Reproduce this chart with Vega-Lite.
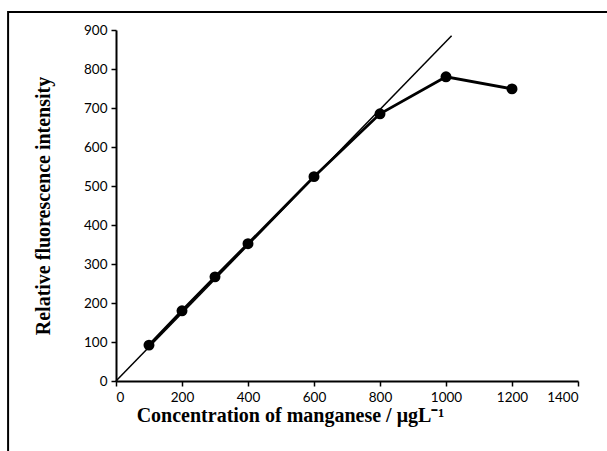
{
  "$schema": "https://vega.github.io/schema/vega-lite/v6.json",
  "width": 462,
  "height": 351,
  "autosize": {"type": "none"},
  "padding": {"left": 116, "top": 30, "right": 29, "bottom": 70},
  "background": "white",
  "config": {
    "view": {"stroke": null},
    "axis": {
      "grid": false,
      "domainColor": "black",
      "domainWidth": 2,
      "tickColor": "black",
      "tickWidth": 1.5,
      "tickSize": 5,
      "labelFont": "Lato",
      "labelFontSize": 13.5,
      "labelColor": "black",
      "labelPadding": 4,
      "format": "d",
      "titleFont": "Liberation Serif",
      "titleFontWeight": "bold",
      "titleFontSize": 20,
      "titleColor": "black"
    }
  },
  "datasets": {
    "measured": [
      {"conc": 100, "intensity": 92},
      {"conc": 200, "intensity": 180},
      {"conc": 300, "intensity": 267},
      {"conc": 400, "intensity": 352},
      {"conc": 600, "intensity": 524},
      {"conc": 800, "intensity": 685},
      {"conc": 1000, "intensity": 780},
      {"conc": 1200, "intensity": 749}
    ],
    "trend": [
      {"conc": 0, "intensity": 0},
      {"conc": 1017, "intensity": 885}
    ],
    "frame": [
      {"x1": -327, "x2": 1520, "y1": 946, "y2": -210}
    ]
  },
  "encoding": {
    "x": {
      "field": "conc", "type": "quantitative",
      "scale": {"domain": [0, 1400], "nice": false, "zero": false},
      "axis": {"values": [0, 200, 400, 600, 800, 1000, 1200, 1400], "title": "Concentration of manganese / μgL⁻¹", "titlePadding": 2, "titleX": 174}
    },
    "y": {
      "field": "intensity", "type": "quantitative",
      "scale": {"domain": [0, 900], "nice": false, "zero": false},
      "axis": {"values": [0, 100, 200, 300, 400, 500, 600, 700, 800, 900], "title": "Relative fluorescence intensity", "titlePadding": 30}
    }
  },
  "layer": [
    {
      "data": {"name": "measured"},
      "mark": {"type": "line", "color": "black", "strokeWidth": 2.8, "point": {"filled": true, "size": 120, "color": "black", "opacity": 1}}
    },
    {
      "data": {"name": "trend"},
      "mark": {"type": "line", "color": "black", "strokeWidth": 1.5, "clip": false}
    },
    {
      "data": {"name": "frame"},
      "mark": {"type": "rect", "fill": null, "stroke": "black", "strokeWidth": 2, "clip": false},
      "encoding": {
        "x": {"field": "x1", "type": "quantitative"},
        "x2": {"field": "x2"},
        "y": {"field": "y1", "type": "quantitative"},
        "y2": {"field": "y2"}
      }
    }
  ]
}
